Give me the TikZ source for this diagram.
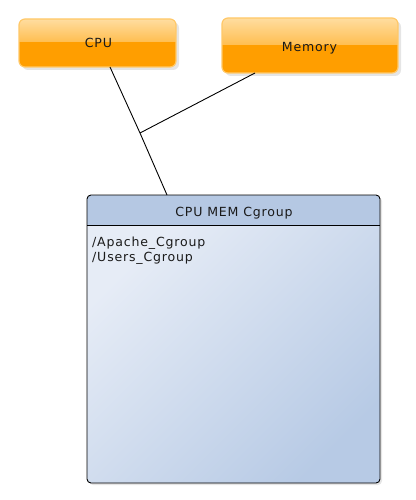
\documentclass[tikz,border=0pt]{standalone}
\usepackage{fontspec}
\setmainfont[LetterSpace=6.5]{DejaVu Sans}
\definecolor{orTop}{HTML}{FFDDA0}
\definecolor{orMid}{HTML}{FFBE50}
\definecolor{orBot}{HTML}{FF9E00}
\definecolor{orEdge}{HTML}{FFC868}
\definecolor{hdrBlue}{HTML}{B5C8E3}
\definecolor{bodyLight}{HTML}{E6ECF6}
\definecolor{bodyDark}{HTML}{B7CAE5}
\definecolor{txt}{HTML}{1A1A1A}
\tikzset{
  lbl/.style={font=\fontsize{12.6}{15}\selectfont, inner sep=0pt, text=txt},
  conn/.style={draw=black, line width=0.9pt},
}
\begin{document}
\begin{tikzpicture}[x=1bp,y=-1bp]
\useasboundingbox (0,0) rectangle (415,500);
% shadows
\fill[black!10, rounded corners=6bp] (22,22) rectangle (179,70);
\fill[black!10, rounded corners=6bp] (225,21) rectangle (401,76);
\fill[black!10, rounded corners=4bp] (89,197) rectangle (382,485);
% CPU box
\begin{scope}
\clip[rounded corners=6bp] (19,19) rectangle (176,67);
\shade[top color=orTop, bottom color=orMid] (19,19) rectangle (176,42);
\fill[orBot] (19,42) rectangle (176,67);
\end{scope}
\draw[orEdge, line width=1.2pt, rounded corners=6bp] (19,19) rectangle (176,67);
\node[lbl, anchor=base] (cpu) at (98.5,47.7) {CPU};
\coordinate (cpuB) at (110,67);
% Memory box
\begin{scope}
\clip[rounded corners=6bp] (222,18) rectangle (398,73);
\shade[top color=orTop, bottom color=orMid] (222,18) rectangle (398,45);
\fill[orBot] (222,45) rectangle (398,73);
\end{scope}
\draw[orEdge, line width=1.2pt, rounded corners=6bp] (222,18) rectangle (398,73);
\node[lbl, anchor=base] (mem) at (309.5,51.7) {Memory};
\coordinate (memB) at (255,73);
% Cgroup box
\begin{scope}
\clip[rounded corners=4bp] (87,195) rectangle (380,483);
\shade[left color=bodyLight, right color=bodyDark, shading angle=45] (87,225) rectangle (380,483);
\fill[hdrBlue] (87,195) rectangle (380,225);
\end{scope}
\draw[black, line width=0.8pt] (87,225) -- (380,225);
\draw[black, line width=0.9pt, rounded corners=4bp] (87,195) rectangle (380,483);
\node[lbl, anchor=base] (cg) at (234,216.7) {CPU MEM Cgroup};
\node[lbl, anchor=base west] (a1) at (92,246.7) {/Apache\_Cgroup};
\node[lbl, anchor=base west] (a2) at (92,261.7) {/Users\_Cgroup};
\coordinate (cgT) at (167,195);
% connectors
\coordinate (j) at (140,133);
\draw[conn] (cpuB) -- (j) -- (cgT);
\draw[conn] (memB) -- (j);
\end{tikzpicture}
\end{document}
